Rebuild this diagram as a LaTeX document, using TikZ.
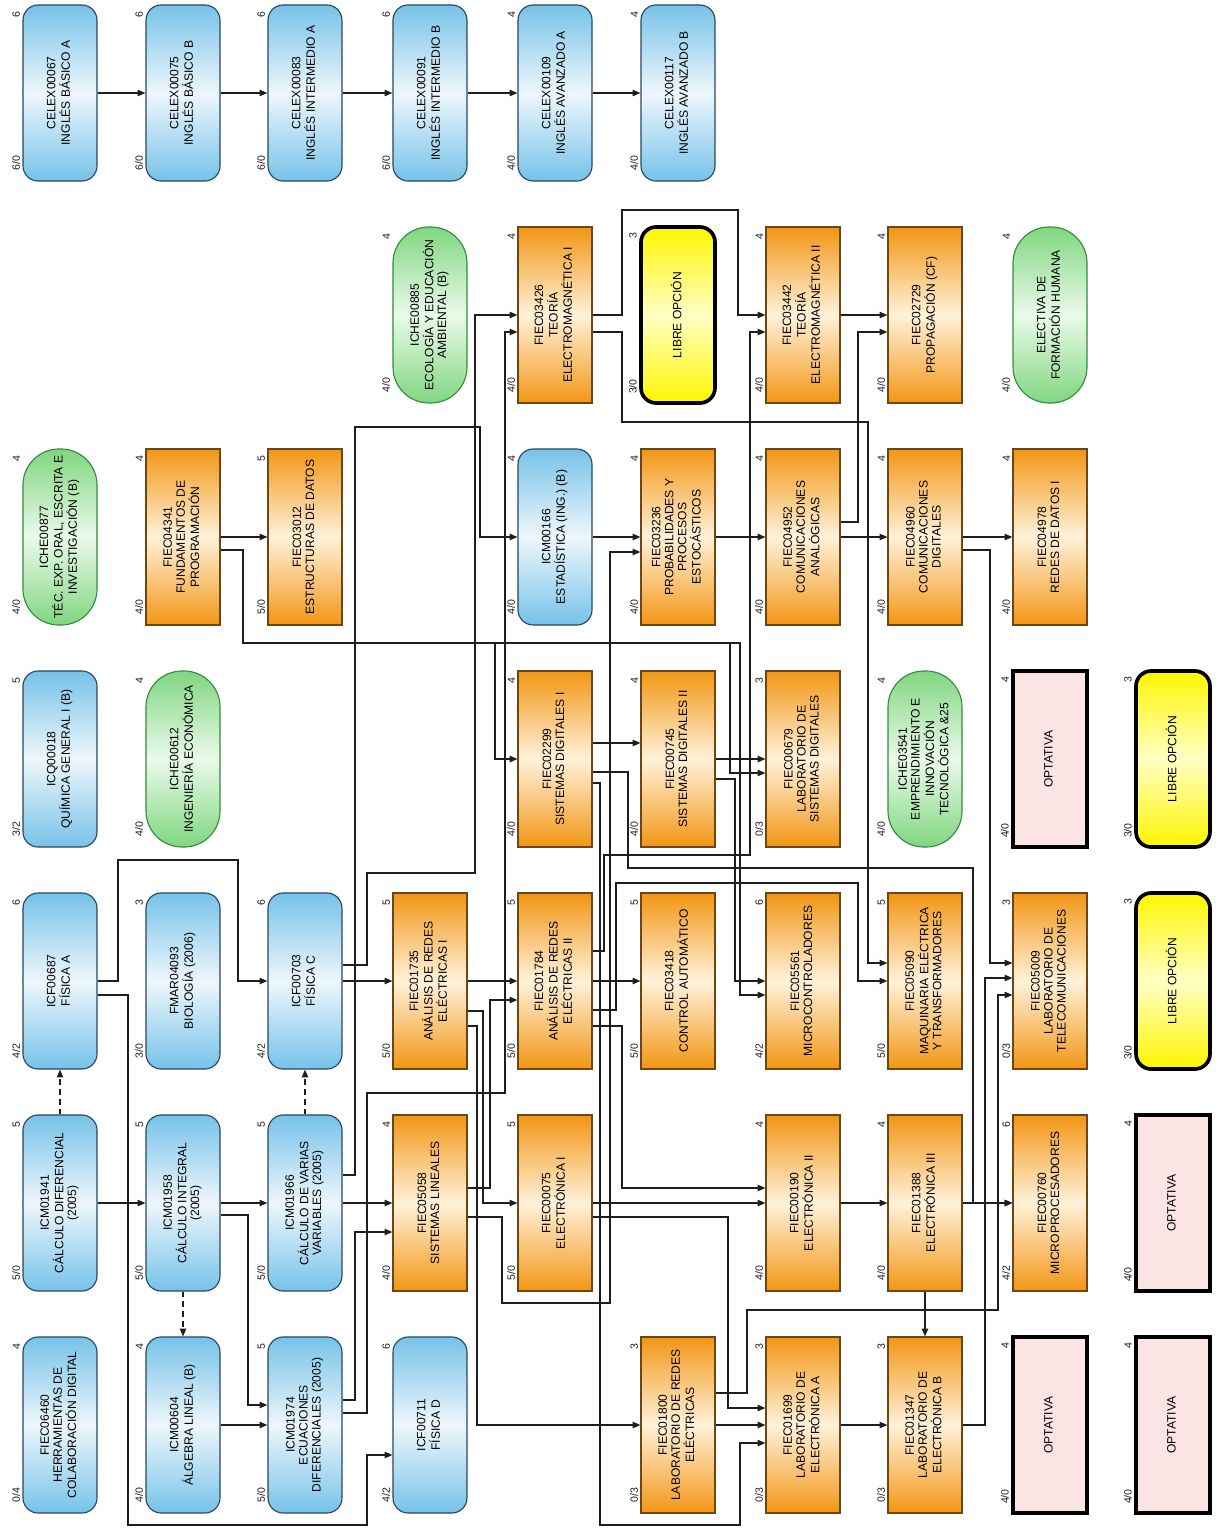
\documentclass[tikz,border=0pt]{standalone}
\usepackage{fontspec}
\setmainfont{Liberation Sans}
\usepackage{graphicx}
\usepackage{xcolor}
\usepackage{tikz}
\usetikzlibrary{arrows.meta, calc}
\definecolor{mydark}{RGB}{30,30,30}
\definecolor{myblue}{RGB}{118,194,232}
\definecolor{hdrblue}{RGB}{238,247,252}
\definecolor{blueline}{RGB}{40,70,100}
\definecolor{myorange}{RGB}{242,150,20}
\definecolor{hdrorange}{RGB}{255,242,218}
\definecolor{orangeline}{RGB}{110,70,20}
\definecolor{mygreen}{RGB}{128,214,128}
\definecolor{hdrgreen}{RGB}{234,250,234}
\definecolor{greenline}{RGB}{50,140,60}
\definecolor{myyellow}{RGB}{255,245,0}
\definecolor{hdryellow}{RGB}{255,255,196}
\definecolor{mypink}{RGB}{250,228,228}
\newcommand{\vtext}[1]{\rotatebox{90}{\begin{tabular}{@{}c@{}}#1\end{tabular}}}
\tikzset{
  course/.style={minimum width=1.85cm, minimum height=4.4cm, inner sep=1pt,
    font=\fontsize{8.6}{9.2}\selectfont, line width=0.8pt},
  blueblock/.style={course, draw=blueline, top color=myblue, bottom color=myblue,
    middle color=hdrblue, rounded corners=0.38cm},
  greenblock/.style={course, draw=greenline, top color=mygreen, bottom color=mygreen,
    middle color=hdrgreen, rounded corners=0.9cm},
  orangeblock/.style={course, draw=orangeline, top color=myorange, bottom color=myorange,
    middle color=hdrorange},
  yellowblock/.style={course, draw=black, line width=2.6pt, top color=myyellow,
    bottom color=myyellow, middle color=hdryellow, rounded corners=0.38cm},
  optblock/.style={course, draw=black, line width=2.6pt, fill=mypink},
  credit/.style={font=\fontsize{7.5}{8.5}\selectfont, inner sep=0.5pt, text=mydark},
  cr/.style={label={[credit, anchor=south east, yshift=0.25cm, xshift=-1pt]south west:\rotatebox{90}{#1}}},
  tot/.style={label={[credit, anchor=north east, yshift=-0.15cm, xshift=-1pt]north west:\rotatebox{90}{#1}}},
  arrow/.style={-{Triangle[length=5.5pt, width=4.5pt]}, line width=0.9pt, draw=mydark},
  coreq/.style={arrow, dash pattern=on 4pt off 3pt}
}

\begin{document}
\begin{tikzpicture}[x=0.025cm, y=-0.025cm]
  \useasboundingbox (0,0) rectangle (1220,1530);

  % English
  \node[blueblock, cr=6/0, tot=6] (celex67) at (60,93) {\vtext{CELEX00067\\INGLÉS BÁSICO A}};
  \node[blueblock, cr=6/0, tot=6] (celex75) at (183,93) {\vtext{CELEX00075\\INGLÉS BÁSICO B}};
  \node[blueblock, cr=6/0, tot=6] (celex83) at (305,93) {\vtext{CELEX00083\\INGLÉS INTERMEDIO A}};
  \node[blueblock, cr=6/0, tot=6] (celex91) at (430,93) {\vtext{CELEX00091\\INGLÉS INTERMEDIO B}};
  \node[blueblock, cr=4/0, tot=4] (celex109) at (555,93) {\vtext{CELEX00109\\INGLÉS AVANZADO A}};
  \node[blueblock, cr=4/0, tot=4] (celex117) at (678,93) {\vtext{CELEX00117\\INGLÉS AVANZADO B}};

  % Row 6
  \node[greenblock, cr=4/0, tot=4] (ecologia) at (430,315) {\vtext{ICHE00885\\ECOLOGÍA Y EDUCACIÓN\\AMBIENTAL (B)}};
  \node[orangeblock, cr=4/0, tot=4] (tem1) at (555,315) {\vtext{FIEC03426\\TEORÍA\\ELECTROMAGNÉTICA I}};
  \node[yellowblock, cr=3/0, tot=3] (libre1) at (678,315) {\vtext{LIBRE OPCIÓN}};
  \node[orangeblock, cr=4/0, tot=4] (tem2) at (803,315) {\vtext{FIEC03442\\TEORÍA\\ELECTROMAGNÉTICA II}};
  \node[orangeblock, cr=4/0, tot=4] (propag) at (925,315) {\vtext{FIEC02729\\PROPAGACIÓN (CF)}};
  \node[greenblock, cr=4/0, tot=4] (electiva) at (1050,315) {\vtext{ELECTIVA DE\\FORMACIÓN HUMANA}};

  % Row 5
  \node[greenblock, cr=4/0, tot=4] (tecexp) at (60,537) {\vtext{ICHE00877\\TÉC. EXP. ORAL, ESCRITA E\\INVESTIGACIÓN (B)}};
  \node[orangeblock, cr=4/0, tot=4] (fundprog) at (183,537) {\vtext{FIEC04341\\FUNDAMENTOS DE\\PROGRAMACIÓN}};
  \node[orangeblock, cr=5/0, tot=5] (estdatos) at (305,537) {\vtext{FIEC03012\\ESTRUCTURAS DE DATOS}};
  \node[blueblock, cr=4/0, tot=4] (estadist) at (555,537) {\vtext{ICM00166\\ESTADÍSTICA (ING.) (B)}};
  \node[orangeblock, cr=4/0, tot=4] (probab) at (678,537) {\vtext{FIEC03236\\PROBABILIDADES Y\\PROCESOS\\ESTOCÁSTICOS}};
  \node[orangeblock, cr=4/0, tot=4] (comanal) at (803,537) {\vtext{FIEC04952\\COMUNICACIONES\\ANALÓGICAS}};
  \node[orangeblock, cr=4/0, tot=4] (comdig) at (925,537) {\vtext{FIEC04960\\COMUNICACIONES\\DIGITALES}};
  \node[orangeblock, cr=4/0, tot=4] (redesdat) at (1050,537) {\vtext{FIEC04978\\REDES DE DATOS I}};

  % Row 4
  \node[blueblock, cr=3/2, tot=5] (quimica) at (60,759) {\vtext{ICQ00018\\QUÍMICA GENERAL I (B)}};
  \node[greenblock, cr=4/0, tot=4] (ingecon) at (183,759) {\vtext{ICHE00612\\INGENIERÍA ECONÓMICA}};
  \node[orangeblock, cr=4/0, tot=4] (sdig1) at (555,759) {\vtext{FIEC02299\\SISTEMAS DIGITALES I}};
  \node[orangeblock, cr=4/0, tot=4] (sdig2) at (678,759) {\vtext{FIEC00745\\SISTEMAS DIGITALES II}};
  \node[orangeblock, cr=0/3, tot=3] (labsd) at (803,759) {\vtext{FIEC00679\\LABORATORIO DE\\SISTEMAS DIGITALES}};
  \node[greenblock, cr=4/0, tot=4] (emprend) at (925,759) {\vtext{ICHE03541\\EMPRENDIMIENTO E\\INNOVACIÓN\\TECNOLÓGICA \&25}};
  \node[optblock, cr=4/0, tot=4] (opt1) at (1050,759) {\vtext{OPTATIVA}};
  \node[yellowblock, cr=3/0, tot=3] (libre2) at (1173,759) {\vtext{LIBRE OPCIÓN}};

  % Row 3
  \node[blueblock, cr=4/2, tot=6] (fisa) at (60,981) {\vtext{ICF00687\\FÍSICA A}};
  \node[blueblock, cr=3/0, tot=3] (biologia) at (183,981) {\vtext{FMAR04093\\BIOLOGÍA (2006)}};
  \node[blueblock, cr=4/2, tot=6] (fisc) at (305,981) {\vtext{ICF00703\\FÍSICA C}};
  \node[orangeblock, cr=5/0, tot=5] (redes1e) at (430,981) {\vtext{FIEC01735\\ANÁLISIS DE REDES\\ELÉCTRICAS I}};
  \node[orangeblock, cr=5/0, tot=5] (redes2e) at (555,981) {\vtext{FIEC01784\\ANÁLISIS DE REDES\\ELÉCTRICAS II}};
  \node[orangeblock, cr=5/0, tot=5] (control) at (678,981) {\vtext{FIEC03418\\CONTROL AUTOMÁTICO}};
  \node[orangeblock, cr=4/2, tot=6] (microcont) at (803,981) {\vtext{FIEC05561\\MICROCONTROLADORES}};
  \node[orangeblock, cr=5/0, tot=5] (maquinas) at (925,981) {\vtext{FIEC05090\\MAQUINARIA ELÉCTRICA\\Y TRANSFORMADORES}};
  \node[orangeblock, cr=0/3, tot=3] (labtel) at (1050,981) {\vtext{FIEC05009\\LABORATORIO DE\\TELECOMUNICACIONES}};
  \node[yellowblock, cr=3/0, tot=3] (libre3) at (1173,981) {\vtext{LIBRE OPCIÓN}};

  % Row 2
  \node[blueblock, cr=5/0, tot=5] (calcdif) at (60,1203) {\vtext{ICM01941\\CÁLCULO DIFERENCIAL\\(2005)}};
  \node[blueblock, cr=5/0, tot=5] (calcint) at (183,1203) {\vtext{ICM01958\\CÁLCULO INTEGRAL\\(2005)}};
  \node[blueblock, cr=5/0, tot=5] (calcvar) at (305,1203) {\vtext{ICM01966\\CÁLCULO DE VARIAS\\VARIABLES (2005)}};
  \node[orangeblock, cr=4/0, tot=4] (sislin) at (430,1203) {\vtext{FIEC05058\\SISTEMAS LINEALES}};
  \node[orangeblock, cr=5/0, tot=5] (elec1) at (555,1203) {\vtext{FIEC00075\\ELECTRÓNICA I}};
  \node[orangeblock, cr=4/0, tot=4] (elec2) at (803,1203) {\vtext{FIEC00190\\ELECTRÓNICA II}};
  \node[orangeblock, cr=4/0, tot=4] (elec3) at (925,1203) {\vtext{FIEC01388\\ELECTRÓNICA III}};
  \node[orangeblock, cr=4/2, tot=6] (micropro) at (1050,1203) {\vtext{FIEC00760\\MICROPROCESADORES}};
  \node[optblock, cr=4/0, tot=4] (opt2) at (1173,1203) {\vtext{OPTATIVA}};

  % Row 1
  \node[blueblock, cr=0/4, tot=4] (herram) at (60,1425) {\vtext{FIEC06460\\HERRAMIENTAS DE\\COLABORACIÓN DIGITAL}};
  \node[blueblock, cr=4/0, tot=4] (algebra) at (183,1425) {\vtext{ICM00604\\ÁLGEBRA LINEAL (B)}};
  \node[blueblock, cr=5/0, tot=5] (ecdif) at (305,1425) {\vtext{ICM01974\\ECUACIONES\\DIFERENCIALES (2005)}};
  \node[blueblock, cr=4/2, tot=6] (fisd) at (430,1425) {\vtext{ICF00711\\FÍSICA D}};
  \node[orangeblock, cr=0/3, tot=3] (labredes) at (678,1425) {\vtext{FIEC01800\\LABORATORIO DE REDES\\ELÉCTRICAS}};
  \node[orangeblock, cr=0/3, tot=3] (labelA) at (803,1425) {\vtext{FIEC01699\\LABORATORIO DE\\ELECTRÓNICA A}};
  \node[orangeblock, cr=0/3, tot=3] (labelB) at (925,1425) {\vtext{FIEC01347\\LABORATORIO DE\\ELECTRÓNICA B}};
  \node[optblock, cr=4/0, tot=4] (opt3) at (1050,1425) {\vtext{OPTATIVA}};
  \node[optblock, cr=4/0, tot=4] (opt4) at (1173,1425) {\vtext{OPTATIVA}};

  % English chain
  \draw[arrow] (celex67.east) -- (celex75.west);
  \draw[arrow] (celex75.east) -- (celex83.west);
  \draw[arrow] (celex83.east) -- (celex91.west);
  \draw[arrow] (celex91.east) -- (celex109.west);
  \draw[arrow] (celex109.east) -- (celex117.west);

  % Co-requisites
  \draw[coreq] (calcdif.north) -- (fisa.south);
  \draw[coreq] (calcint.south) -- (algebra.north);
  \draw[coreq] (calcvar.north) -- (fisc.south);

  % Maths and physics
  \draw[arrow] (calcdif.east) -- (calcint.west);
  \draw[arrow] (calcint.east) -- (calcvar.west);
  \draw[arrow] ($(calcint.east)+(0,12)$) -| (248,1405) -- ($(ecdif.west)+(0,-20)$);
  \draw[arrow] (algebra.east) -- (ecdif.west);
  \draw[arrow] (fisa.east) -| (118,860) -| (238,981) -- (fisc.west);
  \draw[arrow] ($(fisa.east)+(0,14)$) -| (128,1525) -| (367,1455) -- ($(fisd.west)+(0,30)$);
  \draw[arrow] (fisc.east) -- (redes1e.west);
  \draw[arrow] (calcvar.east) -- (sislin.west);
  \draw[arrow] ($(ecdif.east)+(0,-25)$) -| (355,1232) -- ($(sislin.west)+(0,29)$);
  \draw[arrow] ($(calcvar.east)+(0,-28)$) -| (355,427) -| (480,537) -- (estadist.west);
  \draw[arrow] ($(ecdif.east)+(0,-12)$) -| (367,1093) -| (505,332) -- ($(tem1.west)+(0,17)$);
  \draw[arrow] ($(fisc.east)+(0,-16)$) -| (367,873) -| (475,315) -- (tem1.west);

  % Programming
  \draw[arrow] (fundprog.east) -- (estdatos.west);
  \draw[arrow] ($(fundprog.east)+(0,13)$) -| (243,643) -| (495,759) -- (sdig1.west);
  \draw[arrow] ($(fundprog.east)+(0,13)$) -| (243,643) -| (730,773) -- ($(labsd.west)+(0,14)$);
  \draw[arrow] ($(fundprog.east)+(0,13)$) -| (243,643) -| (740,995) -- ($(microcont.west)+(0,14)$);

  % Statistics and communications
  \draw[arrow] (estadist.east) -- (probab.west);
  \draw[arrow] (probab.east) -- (comanal.west);
  \draw[arrow] (comanal.east) -- (comdig.west);
  \draw[arrow] (comdig.east) -- (redesdat.west);
  \draw[arrow] ($(comanal.east)+(0,-15)$) -| (858,332) -- ($(propag.west)+(0,17)$);
  \draw[arrow] ($(comdig.east)+(0,13)$) -| (990,963) -- ($(labtel.west)+(0,-18)$);

  % Electromagnetics
  \draw[arrow] (tem1.east) -| (622,210) -| (738,315) -- (tem2.west);
  \draw[arrow] ($(tem1.east)+(0,17)$) -| (622,422) -| (868,963) -- ($(maquinas.west)+(0,-18)$);
  \draw[arrow] (tem2.east) -- (propag.west);
  \draw[arrow] ($(redes2e.east)+(0,-30)$) -| (604,855) -| (750,332) -- ($(tem2.west)+(0,17)$);

  % Circuits
  \draw[arrow] (redes1e.east) -- (redes2e.west);
  \draw[arrow] ($(redes1e.east)+(0,30)$) -| (483,1203) -- (elec1.west);
  \draw[arrow] ($(redes1e.east)+(0,45)$) -| (477,1425) -- (labredes.west);
  \draw[arrow] ($(sislin.east)+(0,-15)$) -| (490,1000) -- ($(redes2e.west)+(0,19)$);
  \draw[arrow] ($(sislin.east)+(0,14)$) -| (502,1303) -| (610,552) -- ($(probab.west)+(0,15)$);
  \draw[arrow] (redes2e.east) -- (control.west);
  \draw[arrow] ($(redes2e.east)+(0,29)$) -| (616,883) -| (858,981) -- (maquinas.west);
  \draw[arrow] ($(redes2e.east)+(0,45)$) -| (622,1188) -- ($(elec2.west)+(0,-15)$);

  % Digital systems
  \draw[arrow] ($(sdig1.east)+(0,-16)$) -- ($(sdig2.west)+(0,-16)$);
  \draw[arrow] ($(sdig1.east)+(0,13)$) -| (628,868) -| (973,1203) -- (micropro.west);
  \draw[arrow] ($(sdig1.east)+(0,24)$) -| (600,1525) -| (740,1443) -- ($(labelA.west)+(0,18)$);
  \draw[arrow] (sdig2.east) -- (labsd.west);
  \draw[arrow] ($(sdig2.east)+(0,20)$) -| (735,981) -- (microcont.west);

  % Electronics and labs
  \draw[arrow] (elec1.east) -- (elec2.west);
  \draw[arrow] ($(elec1.east)+(0,14)$) -| (728,1408) -- ($(labelA.west)+(0,-17)$);
  \draw[arrow] (labredes.east) -- (labelA.west);
  \draw[arrow] ($(labredes.east)+(0,-32)$) -| (747,1310) -| (998,995) -- ($(labtel.west)+(0,14)$);
  \draw[arrow] (elec2.east) -- (elec3.west);
  \draw[arrow] (elec3.east) -- (micropro.west);
  \draw[arrow] (elec3.south) -- (labelB.north);
  \draw[arrow] (labelA.east) -- (labelB.west);
  \draw[arrow] (labelB.east) -| (985,978) -- ($(labtel.west)+(0,-3)$);
\end{tikzpicture}
\end{document}
